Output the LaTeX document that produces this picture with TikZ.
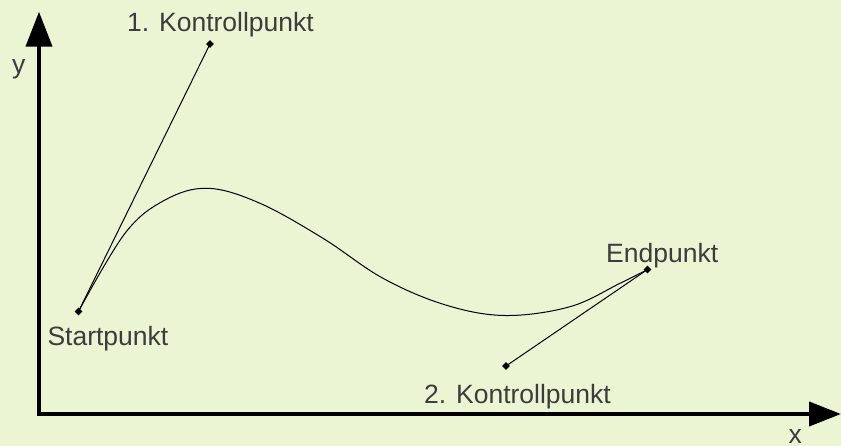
\documentclass[tikz,border=0pt]{standalone}
\usepackage{fontspec}
\setmainfont{Liberation Sans}
\usetikzlibrary{arrows.meta,shapes.geometric}
\definecolor{bg}{RGB}{235,245,211}
\definecolor{txt}{RGB}{60,60,60}
\begin{document}
\begin{tikzpicture}[x=1pt,y=-1pt,
  pt/.style={diamond, fill=black, inner sep=0pt, minimum size=8pt},
  lbl/.style={text=txt, font=\fontsize{26.5}{30}\selectfont, inner sep=0pt, anchor=base west},
  axis/.style={line width=4pt, line join=miter},
  thinline/.style={line width=1pt}
  ]
\fill[bg] (0,0) rectangle (841,446);
\useasboundingbox (0,0) rectangle (841,446);
% axes
\coordinate (ytip) at (39,11.7);
\coordinate (o) at (39,414);
\coordinate (xtip) at (841,414);
\draw[axis, {Triangle[length=35pt,width=26pt]}-{Triangle[length=32pt,width=24pt]}] (ytip) -- (o) -- (xtip);
% points
\node[pt] (c1) at (210,44) {};
\node[pt] (s) at (78.5,311.5) {};
\node[pt] (c2) at (506,366) {};
\node[pt] (e) at (647.5,269.5) {};
% control lines
\draw[thinline] (s.center) -- (c1.center);
\draw[thinline] (e.center) -- (c2.center);
% curve
\draw[thinline] plot[smooth, tension=0.6] coordinates {(s.center) (125,233.3) (165,200) (208,188.3) (260,203.3) (323,238.3) (383,278.3) (445,304.8) (505,315.5) (570,306.7) (620,283.3) (e.center)};
% labels
\node[lbl] (l1) at (127,31.7) {1. Kontrollpunkt};
\node[lbl] (ly) at (12,73.5) {y};
\node[lbl] (ls) at (47.3,345) {Startpunkt};
\node[lbl] (le) at (606,263) {Endpunkt};
\node[lbl] (l2) at (424,403) {2. Kontrollpunkt};
\node[lbl] (lx) at (788.5,443.5) {x};
\end{tikzpicture}
\end{document}
